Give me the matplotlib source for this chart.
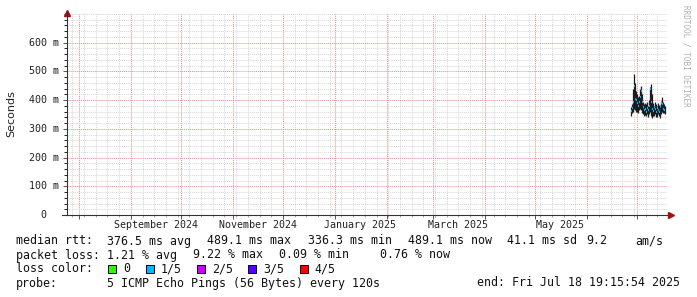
import matplotlib
matplotlib.use('Agg')
import matplotlib.pyplot as plt
import matplotlib.dates as mdates
from matplotlib.transforms import blended_transform_factory
import pandas as pd

# graph window
end_time = pd.Timestamp('2025-07-18 19:15:54')
start_time = pd.Timestamp('2024-07-24 19:15:54')

# rtt samples (ms), one every 14 h starting Jun 27
sample_start = '2025-06-27 06:00'
median_ms = [362, 372, 395, 450, 405, 400, 390, 380, 395, 410, 430, 395,
             375, 365, 370, 360, 372, 365, 380, 420, 440, 395, 370, 362,
             375, 368, 360, 372, 365, 358, 380, 390, 385, 370, 366]
smoke_lo_ms = [345, 355, 360, 370, 365, 360, 360, 355, 365, 370, 365, 355,
               350, 345, 348, 345, 350, 340, 350, 360, 345, 338, 345, 345,
               350, 342, 340, 350, 345, 338, 350, 360, 355, 355, 352]
smoke_hi_ms = [375, 385, 440, 489, 460, 430, 420, 410, 415, 440, 450, 420,
               395, 385, 390, 385, 395, 380, 400, 445, 455, 420, 390, 380,
               392, 388, 378, 390, 383, 375, 398, 410, 395, 385, 378]
# lost pings out of 5 for each sample
loss_level = [1] * 35

loss_names = ['0', '1/5', '2/5', '3/5', '4/5']
loss_colors = ['#26ff00', '#00b8ff', '#cc00ff', '#5500ff', '#ff0000']

month_labels = ['September 2024', 'November 2024', 'January 2025', 'March 2025', 'May 2025']
month_label_dates = ['2024-09-16', '2024-11-16', '2025-01-16', '2025-03-16', '2025-05-16']

ytick_vals = [0, 100, 200, 300, 400, 500, 600]
ytick_text = ['  0', '100 m', '200 m', '300 m', '400 m', '500 m', '600 m']

W, H = 697, 297
fig = plt.figure(figsize=(W / 100, H / 100), dpi=100)
ax = fig.add_axes([67 / W, 1 - 215 / H, 600 / W, 202 / H])

mono = 'DejaVu Sans Mono'
step = pd.Timedelta(hours=14)
times = pd.date_range(sample_start, periods=len(median_ms), freq=step)

# smoke
ax.vlines(times + step / 2, smoke_lo_ms, smoke_hi_ms, color='#1c1c1c', lw=0.9, zorder=3)
# median coloured by loss
ax.hlines(median_ms, times, times + step, colors=[loss_colors[l] for l in loss_level],
          lw=1.6, zorder=4)

ax.set_xlim(start_time, end_time)
ax.set_ylim(0, 703)

# grid: months red, weeks (sundays) grey, 100 m red, 20 m grey
ax.xaxis.set_major_locator(mdates.MonthLocator())
ax.xaxis.set_minor_locator(mdates.WeekdayLocator(byweekday=mdates.SU))
ax.yaxis.set_major_locator(plt.FixedLocator(ytick_vals))
ax.yaxis.set_minor_locator(plt.MultipleLocator(20))
ax.grid(which='minor', color='#d6d6d6', lw=0.7, ls=(0, (1, 1)))
ax.grid(which='major', color='#f08888', lw=0.7, ls=(0, (1, 1)))
ax.set_axisbelow(True)

ax.tick_params(labelleft=False, labelbottom=False, color='#555555')
ax.tick_params(which='major', length=3, width=0.7)
ax.tick_params(which='minor', length=2, width=0.6)
ax.tick_params(axis='x', which='minor', length=1.5, color='#999999')

for s in ['top', 'right']:
    ax.spines[s].set_visible(False)
for s in ['left', 'bottom']:
    ax.spines[s].set_color('#333333')
    ax.spines[s].set_linewidth(0.8)
# x axis line sticks out a little to the left
ax.plot([-0.008, 0], [0, 0], color='#333333', lw=0.8, transform=ax.transAxes, clip_on=False)

# arrows at axis ends
ax.plot([0], [1.0], marker='^', ms=4.5, color='#a01010', transform=ax.transAxes, clip_on=False)
ax.plot([1.007], [0], marker='>', ms=4.5, color='#a01010', transform=ax.transAxes, clip_on=False)

# tick labels
ytr = blended_transform_factory(fig.transFigure, ax.transData)
for v, t in zip(ytick_vals, ytick_text):
    fig.text(29 / W, v, t, transform=ytr, ha='left', va='center', family=mono, fontsize=7.2, color='#222222')
xtr = blended_transform_factory(ax.transData, fig.transFigure)
for d, t in zip(month_label_dates, month_labels):
    fig.text(mdates.date2num(pd.Timestamp(d)), 1 - 224.5 / H, t, transform=xtr, ha='center', va='center',
             family=mono, fontsize=7.2, color='#222222')

fig.text(11 / W, 1 - 114 / H, 'Seconds', rotation=90, ha='center', va='center', fontsize=8, color='#222222')
fig.text(686 / W, 1 - 5 / H, 'RRDTOOL / TOBI OETIKER', rotation=270, ha='center', va='top',
         family=mono, fontsize=5.5, color='#b0b0b0')

# legend
def px(x, y, s, **kw):
    fig.text(x / W, 1 - y / H, s, family=mono, fontsize=8.4, color='#111111', va='center', **kw)

px(16, 241, 'median rtt:')
px(107.3, 241, '376.5 ms avg')
px(206.7, 241, '489.1 ms max')
px(308.3, 241, '336.3 ms min')
px(407.7, 241, '489.1 ms now')
px(506.7, 241, '41.1 ms sd')
px(586.7, 241, '9.2')
px(635, 241, 'am/s')

px(16, 255, 'packet loss:')
px(107.3, 255, '1.21 % avg')
px(193.3, 255, '9.22 % max')
px(279.3, 255, '0.09 % min')
px(380, 255, '0.76 % now')

px(16, 269, 'loss color:')
bx = 108.3
for name, col in zip(loss_names, loss_colors):
    fig.patches.append(plt.Rectangle((bx / W, 1 - 273 / H), 8 / W, 8 / H, transform=fig.transFigure,
                                     facecolor=col, edgecolor='#000000', lw=0.7))
    px(bx + 14.7, 269, name)
    bx = bx + 14.7 + 7 * len(name) + 15.7

px(16, 283, 'probe:')
px(107.3, 283, '5 ICMP Echo Pings (56 Bytes) every 120s')
px(680, 283, 'end: Fri Jul 18 19:15:54 2025', ha='right')

fig.savefig('out.png', dpi=100, facecolor='white')
